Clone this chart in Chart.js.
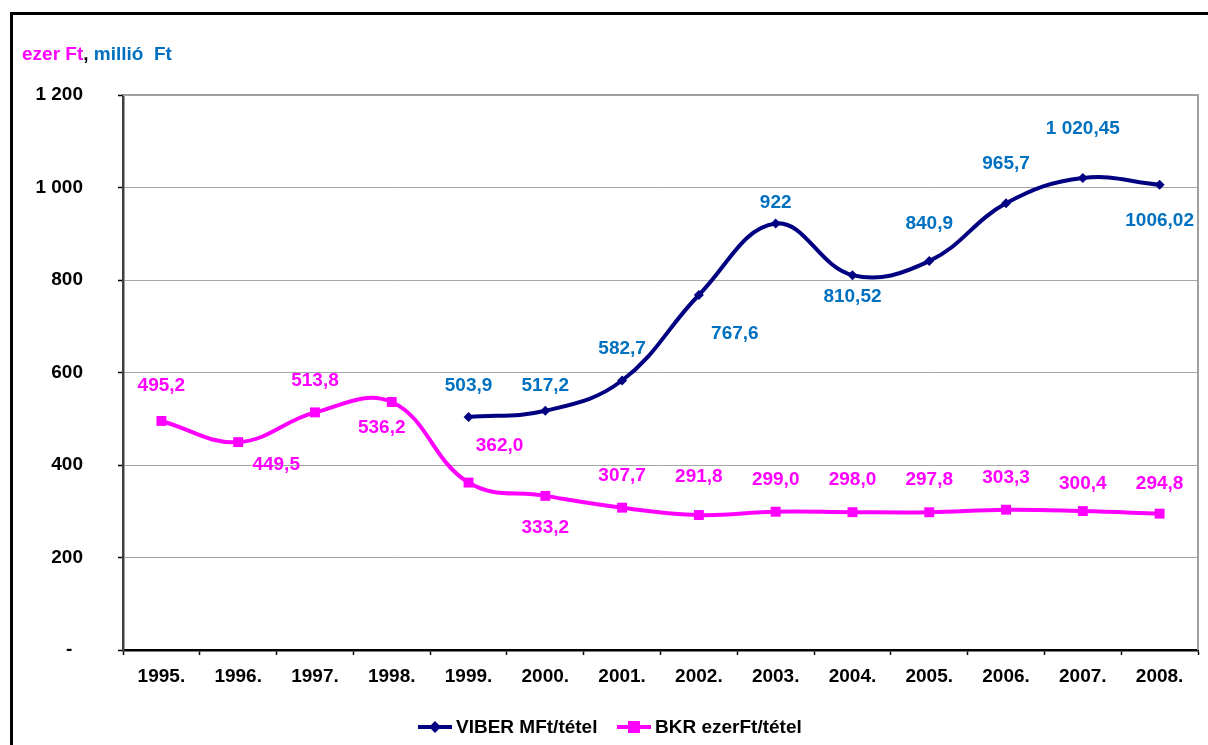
<!DOCTYPE html>
<html>
<head>
<meta charset="utf-8">
<script src="https://cdn.jsdelivr.net/npm/chart.js@4/dist/chart.umd.min.js"></script>
<style>
  html, body { margin: 0; padding: 0; background: #fff; }
  #wrap { width: 1208px; height: 745px; position: relative; }
</style>
</head>
<body>
<div id="wrap"><canvas id="chart" width="1208" height="745"></canvas></div>
<script>
// --- Data ---
const years = ['1995.', '1996.', '1997.', '1998.', '1999.', '2000.', '2001.',
               '2002.', '2003.', '2004.', '2005.', '2006.', '2007.', '2008.'];
const viberValues = [null, null, null, null, 503.9, 517.2, 582.7, 767.6, 922, 810.52, 840.9, 965.7, 1020.45, 1006.02];
const viberLabels = [null, null, null, null, '503,9', '517,2', '582,7', '767,6', '922', '810,52', '840,9', '965,7', '1 020,45', '1006,02'];
const bkrValues = [495.2, 449.5, 513.8, 536.2, 362.0, 333.2, 307.7, 291.8, 299.0, 298.0, 297.8, 303.3, 300.4, 294.8];
const yTicks = [0, 200, 400, 600, 800, 1000, 1200];

// --- Colours & fonts ---
const NAVY = '#000080';
const BLUE = '#0070C0';
const MAGENTA = '#FF00FF';
const FONT = 'bold 19px "Liberation Sans", Arial, sans-serif';

// label placement relative to each point (dx, dy)
const viberLabelOffsets = [null, null, null, null,
  [0, -31], [0, -25], [0, -32], [36, 39], [0, -21], [0, 22], [0, -37], [0, -40], [0, -49], [0, 36]];
const bkrLabelOffsets = [[0, -35], [38, 23], [0, -32], [-10, 26], [31, -37], [0, 32], [0, -32],
  [0, -38], [0, -32], [0, -32], [0, -33], [0, -32], [0, -27], [0, -30]];

function fmtTick(v) {
  if (v === 0) return '-  ';
  return String(v).replace(/\B(?=(\d{3})+(?!\d))/g, ' ');
}
function fmtBkr(v) {
  return v.toFixed(1).replace('.', ',');
}

// --- Plugins ---
const framePlugin = {
  id: 'frame',
  beforeDraw(chart) {
    const ctx = chart.ctx;
    ctx.save();
    ctx.fillStyle = '#fff';
    ctx.fillRect(0, 0, chart.width, chart.height);
    ctx.restore();
  },
  afterDraw(chart) {
    const ctx = chart.ctx;
    const a = chart.chartArea;
    ctx.save();
    // outer frame (left + top edges only visible)
    ctx.strokeStyle = '#000';
    ctx.lineWidth = 3;
    ctx.beginPath();
    ctx.moveTo(11.5, chart.height);
    ctx.lineTo(11.5, 13.5);
    ctx.lineTo(chart.width, 13.5);
    ctx.stroke();
    // plot area top/right border
    ctx.strokeStyle = '#a0a0a0';
    ctx.lineWidth = 2;
    ctx.beginPath();
    ctx.moveTo(a.left, a.top);
    ctx.lineTo(a.right, a.top);
    ctx.lineTo(a.right, a.bottom);
    ctx.stroke();
    // unit caption
    ctx.font = FONT;
    ctx.textBaseline = 'middle';
    ctx.textAlign = 'left';
    let x = 22;
    const y = 55;
    const parts = [['ezer Ft', MAGENTA], [', ', '#000'], ['millió  Ft', BLUE]];
    parts.forEach(([t, c]) => {
      ctx.fillStyle = c;
      ctx.fillText(t, x, y);
      x += ctx.measureText(t).width;
    });
    // legend
    const ly = 727;
    const items = [
      { x: 418, color: NAVY, shape: 'diamond', text: 'VIBER MFt/tétel' },
      { x: 617, color: MAGENTA, shape: 'square', text: 'BKR ezerFt/tétel' }
    ];
    items.forEach(it => {
      ctx.strokeStyle = it.color;
      ctx.fillStyle = it.color;
      ctx.lineWidth = 4;
      ctx.beginPath();
      ctx.moveTo(it.x, ly);
      ctx.lineTo(it.x + 34, ly);
      ctx.stroke();
      const cx = it.x + 17;
      ctx.beginPath();
      if (it.shape === 'diamond') {
        ctx.moveTo(cx - 6, ly); ctx.lineTo(cx, ly - 6); ctx.lineTo(cx + 6, ly); ctx.lineTo(cx, ly + 6);
        ctx.closePath();
      } else {
        ctx.rect(cx - 6, ly - 6, 12, 12);
      }
      ctx.fill();
      ctx.fillStyle = '#000';
      ctx.font = FONT;
      ctx.fillText(it.text, it.x + 38, ly + 1);
    });
    ctx.restore();
  }
};

const labelPlugin = {
  id: 'pointLabels',
  afterDatasetsDraw(chart) {
    const ctx = chart.ctx;
    ctx.save();
    ctx.font = FONT;
    ctx.textAlign = 'center';
    ctx.textBaseline = 'middle';
    chart.data.datasets.forEach((ds, di) => {
      const meta = chart.getDatasetMeta(di);
      const offsets = di === 0 ? viberLabelOffsets : bkrLabelOffsets;
      meta.data.forEach((pt, i) => {
        const v = ds.data[i];
        if (v === null || !offsets[i]) return;
        const text = di === 0 ? viberLabels[i] : fmtBkr(v);
        ctx.fillStyle = di === 0 ? BLUE : MAGENTA;
        ctx.fillText(text, pt.x + offsets[i][0], pt.y + offsets[i][1]);
      });
    });
    ctx.restore();
  }
};

// --- Chart ---
const ctx = document.getElementById('chart').getContext('2d');
const chart = new Chart(ctx, {
  type: 'line',
  data: {
    labels: years,
    datasets: [
      {
        label: 'VIBER MFt/tétel',
        data: viberValues,
        borderColor: NAVY,
        backgroundColor: NAVY,
        borderWidth: 4,
        tension: 0.4,
        pointStyle: 'rectRot',
        pointRadius: 5,
        pointBorderWidth: 0,
        spanGaps: false
      },
      {
        label: 'BKR ezerFt/tétel',
        data: bkrValues,
        borderColor: MAGENTA,
        backgroundColor: MAGENTA,
        borderWidth: 4,
        tension: 0.4,
        pointStyle: 'rect',
        pointRadius: 7,
        pointBorderWidth: 0
      }
    ]
  },
  options: {
    responsive: false,
    animation: false,
    layout: { padding: { left: 0, top: 95, right: 10, bottom: 0 } },
    plugins: {
      legend: { display: false },
      tooltip: { enabled: false }
    },
    scales: {
      x: {
        offset: true,
        grid: {
          offset: true,
          drawOnChartArea: false,
          drawTicks: true,
          tickLength: 5,
          tickColor: '#000',
          tickWidth: 1.5
        },
        border: { color: '#000', width: 2.5 },
        ticks: {
          color: '#000',
          font: { family: '"Liberation Sans", Arial, sans-serif', size: 19, weight: 'bold' },
          padding: 10,
          maxRotation: 0,
          autoSkip: false
        },
        afterFit(scale) { scale.height = 95; }
      },
      y: {
        min: 0,
        max: 1200,
        afterBuildTicks(scale) { scale.ticks = yTicks.map(v => ({ value: v })); },
        grid: {
          color: '#a6a6a6',
          lineWidth: 1,
          borderDash: [4, 3],
          drawTicks: true,
          tickLength: 5,
          tickColor: '#000',
          tickBorderDash: [],
          tickWidth: 1.5
        },
        border: { color: '#404040', width: 2.5 },
        ticks: {
          color: '#000',
          font: { family: '"Liberation Sans", Arial, sans-serif', size: 19, weight: 'bold' },
          padding: 35,
          callback: (v) => fmtTick(v)
        },
        afterFit(scale) { scale.width = 123; }
      }
    }
  },
  plugins: [framePlugin, labelPlugin]
});
</script>
</body>
</html>
